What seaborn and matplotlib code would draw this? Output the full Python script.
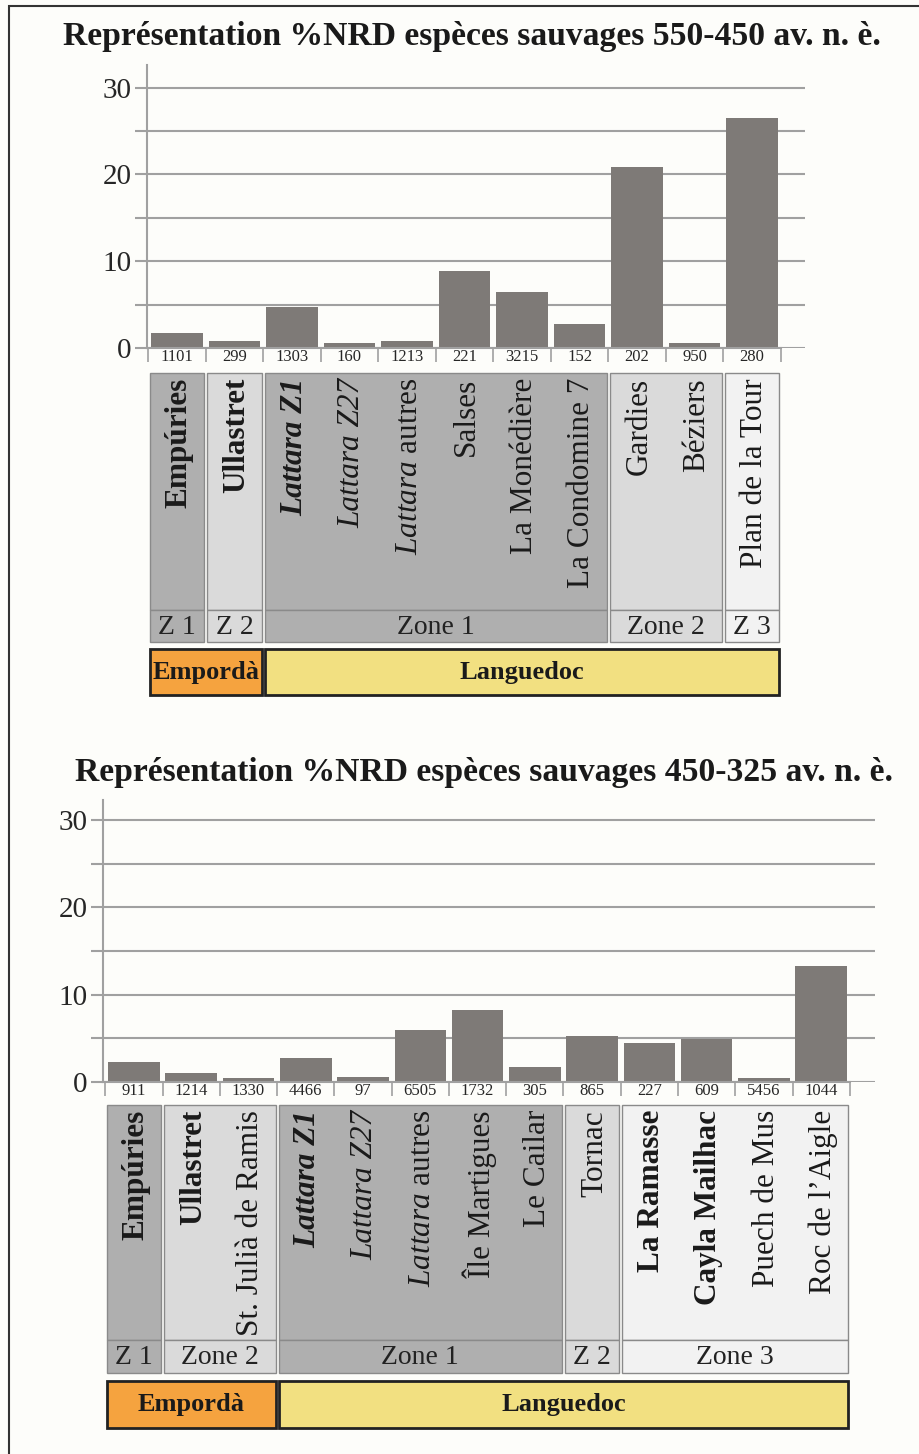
import matplotlib
matplotlib.use("Agg")
import matplotlib.pyplot as plt
from matplotlib.patches import Rectangle
import pandas as pd
import seaborn as sns

sns.set_theme(style="white")
plt.rcParams['font.family'] = ['Liberation Serif', 'DejaVu Serif']
plt.rcParams['mathtext.fontset'] = 'custom'
plt.rcParams['mathtext.rm'] = 'Liberation Serif'
plt.rcParams['mathtext.it'] = 'Liberation Serif:italic'
plt.rcParams['mathtext.bf'] = 'Liberation Serif:bold'

W, H = 919, 1454
BG = '#fdfdfa'
BAR = '#7e7a77'
GRID = '#a0a0a0'
ZONE_COLORS = {1: '#afafaf', 2: '#dadada', 3: '#f2f2f2'}
REGION_COLORS = {"Empordà": '#f5a33f', "Languedoc": '#f2e081'}

# ---- 550-450 av. n. è.
title_1 = "Représentation %NRD espèces sauvages 550-450 av. n. è."
sites_1 = ["Empúries", "Ullastret", "Lattara Z1", "Lattara Z27",
           r"$\mathit{Lattara}$ autres", "Salses", "La Monédière",
           "La Condomine 7", "Gardies", "Béziers", "Plan de la Tour"]
weights_1 = ["bold", "bold", "bold", "normal", "normal", "normal", "normal",
             "normal", "normal", "normal", "normal"]
styles_1 = ["normal", "normal", "italic", "italic", "normal", "normal",
            "normal", "normal", "normal", "normal", "normal"]
nrd_1 = [1101, 299, 1303, 160, 1213, 221, 3215, 152, 202, 950, 280]
pct_1 = [1.7, 0.85, 4.7, 0.55, 0.85, 8.9, 6.4, 2.8, 20.8, 0.55, 26.5]
zones_1 = ["Z 1", "Z 2", "Zone 1", "Zone 2", "Z 3"]
zone_sizes_1 = [1, 1, 6, 2, 1]
zone_levels_1 = [1, 2, 1, 2, 3]
regions_1 = ["Empordà", "Languedoc"]
region_sizes_1 = [2, 9]

# ---- 450-325 av. n. è.
title_2 = "Représentation %NRD espèces sauvages 450-325 av. n. è."
sites_2 = ["Empúries", "Ullastret", "St. Julià de Ramis", "Lattara Z1",
           "Lattara Z27", r"$\mathit{Lattara}$ autres", "Île Martigues",
           "Le Cailar", "Tornac", "La Ramasse", "Cayla Mailhac",
           "Puech de Mus", "Roc de l’Aigle"]
weights_2 = ["bold", "bold", "normal", "bold", "normal", "normal", "normal",
             "normal", "normal", "bold", "bold", "normal", "normal"]
styles_2 = ["normal", "normal", "normal", "italic", "italic", "normal",
            "normal", "normal", "normal", "normal", "normal", "normal",
            "normal"]
nrd_2 = [911, 1214, 1330, 4466, 97, 6505, 1732, 305, 865, 227, 609, 5456,
         1044]
pct_2 = [2.3, 1.05, 0.5, 2.75, 0.55, 6.0, 8.25, 1.7, 5.3, 4.5, 4.9, 0.5,
         13.3]
zones_2 = ["Z 1", "Zone 2", "Zone 1", "Z 2", "Zone 3"]
zone_sizes_2 = [1, 2, 5, 1, 4]
zone_levels_2 = [1, 2, 1, 2, 3]
regions_2 = ["Empordà", "Languedoc"]
region_sizes_2 = [3, 10]


def px_axes(fig, left, right, top, bottom):
    """axes placed with pixel edges of the 919x1454 canvas"""
    return fig.add_axes([left / W, 1 - bottom / H, (right - left) / W,
                         (bottom - top) / H])


def draw_bars(ax, sites, nrd, pct, xlim, ytop):
    df = pd.DataFrame({"site": sites, "pct": pct})
    sns.barplot(data=df, x="site", y="pct", order=sites, color=BAR,
                saturation=1, width=0.9, ax=ax, linewidth=0)
    n = len(sites)
    ax.set_xlim(*xlim)
    ax.set_ylim(0, ytop)
    ax.set_facecolor('none')
    ax.set_xlabel("")
    ax.set_ylabel("")
    ax.set_yticks([0, 10, 20, 30])
    ax.set_yticks([5, 15, 25], minor=True)
    ax.yaxis.grid(True, which='both', color=GRID, lw=1.5)
    ax.set_axisbelow(True)
    ax.tick_params(axis='y', which='both', left=True, length=9, width=1.5,
                   color=GRID, labelsize=21, pad=2)
    ax.set_xticks(range(n))
    ax.set_xticklabels([str(v) for v in nrd], fontsize=12)
    ax.set_xticks([i - 0.5 for i in range(n + 1)], minor=True)
    ax.tick_params(axis='x', which='major', bottom=False, length=0, pad=1)
    ax.tick_params(axis='x', which='minor', bottom=True, length=10,
                   width=1.2, color=GRID)
    for s in ['top', 'right']:
        ax.spines[s].set_visible(False)
    ax.spines['left'].set_color(GRID)
    ax.spines['left'].set_linewidth(1.5)
    ax.spines['bottom'].set_color(GRID)
    ax.spines['bottom'].set_linewidth(1.5)
    ax.spines['bottom'].set_bounds(xlim[0], n - 0.5)


def draw_table(ax, sites, weights, styles, zones, zone_sizes, zone_levels,
               regions, region_sizes, rows):
    cat_top, cat_bot, zone_bot, reg_top, reg_bot = rows
    start = 0
    for name, size, lvl in zip(zones, zone_sizes, zone_levels):
        x0, x1 = start - 0.475, start + size - 1 + 0.475
        for y0, y1 in [(cat_top, cat_bot), (cat_bot, zone_bot)]:
            ax.add_patch(Rectangle((x0, y0), x1 - x0, y1 - y0,
                                   fc=ZONE_COLORS[lvl], ec='#8a8a8a', lw=1))
        ax.text((x0 + x1) / 2, (cat_bot + zone_bot) / 2 + 1, name,
                ha='center', va='center', fontsize=20, color='#222222')
        start += size
    for i, (lab, wt, st) in enumerate(zip(sites, weights, styles)):
        ax.text(i + 0.04, cat_top + 5, lab, rotation=90, rotation_mode='anchor',
                ha='right', va='center', fontsize=22.5, fontweight=wt,
                fontstyle=st, color='#1a1a1a')
    start = 0
    for name, size in zip(regions, region_sizes):
        x0, x1 = start - 0.475, start + size - 1 + 0.475
        ax.add_patch(Rectangle((x0, reg_top), x1 - x0, reg_bot - reg_top,
                               fc=REGION_COLORS[name], ec='#222222', lw=2))
        ax.text((x0 + x1) / 2, (reg_top + reg_bot) / 2, name, ha='center',
                va='center', fontsize=19, fontweight='bold', color='#1a1a1a')
        start += size


fig = plt.figure(figsize=(W / 100, H / 100), dpi=100, facecolor=BG)

# top chart
xlim_1 = (-0.52, 10.92)
ax1 = px_axes(fig, 147, 805, 65, 348)
draw_bars(ax1, sites_1, nrd_1, pct_1, xlim_1, 32.6)
tab1 = px_axes(fig, 147, 805, 362, 700)
tab1.set_xlim(*xlim_1)
tab1.set_ylim(700, 362)
tab1.axis('off')
draw_table(tab1, sites_1, weights_1, styles_1, zones_1, zone_sizes_1,
           zone_levels_1, regions_1, region_sizes_1,
           (373, 610, 642, 649, 695))
fig.text(472 / W, 1 - 36 / H, title_1, ha='center', va='center',
         fontsize=24.2, fontweight='bold', color='#1a1a1a')

# bottom chart
xlim_2 = (-0.54, 12.94)
ax2 = px_axes(fig, 103, 875, 800, 1082)
draw_bars(ax2, sites_2, nrd_2, pct_2, xlim_2, 32.3)
tab2 = px_axes(fig, 103, 875, 1095, 1435)
tab2.set_xlim(*xlim_2)
tab2.set_ylim(1435, 1095)
tab2.axis('off')
draw_table(tab2, sites_2, weights_2, styles_2, zones_2, zone_sizes_2,
           zone_levels_2, regions_2, region_sizes_2,
           (1105, 1340, 1373, 1381, 1428))
fig.text(484 / W, 1 - 773 / H, title_2, ha='center', va='center',
         fontsize=24.2, fontweight='bold', color='#1a1a1a')

# outer frame (only top and left edges fall inside the canvas)
fig.add_artist(Rectangle((9 / W, -0.05), 1.2, 1.05 - 6 / H,
                         transform=fig.transFigure, fill=False,
                         ec='#333333', lw=1.5))

fig.savefig("out.png", dpi=100, facecolor=BG)
